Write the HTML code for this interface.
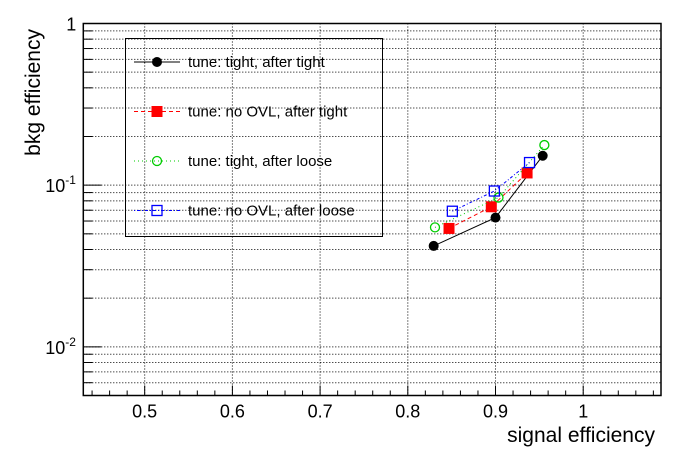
<!DOCTYPE html>
<html><head><meta charset="utf-8"><style>
html,body{margin:0;padding:0;background:#fff;}
svg{display:block;font-family:"Liberation Sans",Arial,sans-serif;}
</style></head><body>
<svg id="chart" width="696" height="472" viewBox="0 0 696 472">
<g id="grid"></g>
<g id="axes"></g>
<g id="series"></g>
<g id="legend"></g>
<text x="655" y="442" font-size="21" text-anchor="end">signal efficiency</text>
<text transform="translate(40,29) rotate(-90)" font-size="21" text-anchor="end">bkg efficiency</text>
</svg>
<script>
const seriesNames = ["tune: tight, after tight","tune: no OVL, after tight","tune: tight, after loose","tune: no OVL, after loose"];
const tightTightX = [0.8295, 0.900, 0.9538];
const tightTightY = [0.0421, 0.063, 0.152];
const noOvlTightX = [0.847, 0.8952, 0.936];
const noOvlTightY = [0.054, 0.0735, 0.119];
const tightLooseX = [0.831, 0.9034, 0.9557];
const tightLooseY = [0.0548, 0.0838, 0.177];
const noOvlLooseX = [0.8508, 0.8987, 0.9388];
const noOvlLooseY = [0.069, 0.092, 0.138];
const xTicks = [0.5, 0.6, 0.7, 0.8, 0.9, 1];
const xTickLabels = ["0.5","0.6","0.7","0.8","0.9","1"];

const NS="http://www.w3.org/2000/svg";
const L=83.3,R=661,T=23.5,B=395.5;
const X0=0.43,X1=1.0887,YL0=Math.log10(0.005),YL1=0;
function sx(v){return L+(v-X0)/(X1-X0)*(R-L);}
function sy(v){return T+(YL1-Math.log10(v))/(YL1-YL0)*(B-T);}
function mk(tag,attrs,parent){const e=document.createElementNS(NS,tag);for(const k in attrs)e.setAttribute(k,attrs[k]);parent.appendChild(e);return e;}
const grid=document.getElementById('grid'),axes=document.getElementById('axes'),ser=document.getElementById('series'),leg=document.getElementById('legend');

for(let d=-3;d<=0;d++){for(let m=1;m<=9;m++){const v=m*Math.pow(10,d);if(v<0.005-1e-9||v>1+1e-9)continue;const y=sy(v);
 if(v<0.999){const g=mk('line',{x1:L,x2:R,y1:y,y2:y,stroke:'#000','stroke-width':1,'stroke-dasharray':'1,2'},grid);
 }
 const len=(m===1)?18:9;
 const t=mk('line',{x1:L,x2:L+len,y1:y,y2:y,stroke:'#000','stroke-width':1},axes);
 }}
xTicks.forEach((v,i)=>{const x=sx(v);
 const g=mk('line',{x1:x,x2:x,y1:T,y2:B,stroke:'#000','stroke-width':1,'stroke-dasharray':'1,2'},grid);
 
 const lb=mk('text',{x:x,y:B+22,'font-size':18,'text-anchor':'middle'},axes);lb.textContent=xTickLabels[i];
 });
for(let v=0.44;v<1.089;v+=0.02){const x=sx(v);const maj=Math.abs(v*10-Math.round(v*10))<1e-6;
 const t=mk('line',{x1:x,x2:x,y1:B,y2:B-(maj?10:5),stroke:'#000','stroke-width':1},axes);
 }
const fr=mk('rect',{x:L,y:T,width:R-L,height:B-T,fill:'none',stroke:'#000','stroke-width':1.5},axes);

[[1,'1',null],[0.1,'10','-1'],[0.01,'10','-2']].forEach(a=>{const y=sy(a[0]);
 const t=mk('text',{x:a[2]?L-18:L-7,y:y+7,'font-size':18,'text-anchor':'end'},axes);t.textContent=a[1];
 
 if(a[2]){const s=mk('text',{x:L-18,y:y-1,'font-size':12},axes);s.textContent=a[2];
 }});

function marker(type,col,x,y,p){let e;
 if(type==='dot')e=mk('circle',{cx:x,cy:y,r:5,fill:col},p);
 else if(type==='sq')e=mk('rect',{x:x-5.5,y:y-5.5,width:11,height:11,fill:col},p);
 else if(type==='ocirc')e=mk('circle',{cx:x,cy:y,r:4.5,fill:'none',stroke:col,'stroke-width':1.3},p);
 else e=mk('rect',{x:x-5,y:y-5,width:10,height:10,fill:'none',stroke:col,'stroke-width':1.3},p);
 return e;}
const defs=[[tightTightX,tightTightY,'#000','none','dot','tight-after-tight'],
 [noOvlTightX,noOvlTightY,'#f00','4,3','sq','no-ovl-after-tight'],
 [tightLooseX,tightLooseY,'#0c0','1,3','ocirc','tight-after-loose'],
 [noOvlLooseX,noOvlLooseY,'#00f','1,2,3,2','osq','no-ovl-after-loose']];
defs.forEach((d,i)=>{const g=mk('g',{},ser);
 const pts=d[0].map((v,j)=>sx(v)+','+sy(d[1][j])).join(' ');
 const pl=mk('polyline',{points:pts,fill:'none',stroke:d[2],'stroke-width':1,'stroke-dasharray':d[3]},g);
 
 d[0].forEach((v,j)=>{const m=marker(d[4],d[2],sx(v),sy(d[1][j]),g);
 });
 const ly=62+i*49.5;
 const lg=mk('g',{},leg);
 const ll=mk('line',{x1:134,x2:180,y1:ly,y2:ly,stroke:d[2],'stroke-width':1,'stroke-dasharray':d[3]},lg);
 
 const lm=marker(d[4],d[2],157,ly,lg);
 const lt=mk('text',{x:188,y:ly+5,'font-size':15},lg);lt.textContent=seriesNames[i];
 });
const lb=mk('rect',{x:125.5,y:38.5,width:257,height:198,fill:'none',stroke:'#000','stroke-width':1},leg);

</script>
</body></html>
